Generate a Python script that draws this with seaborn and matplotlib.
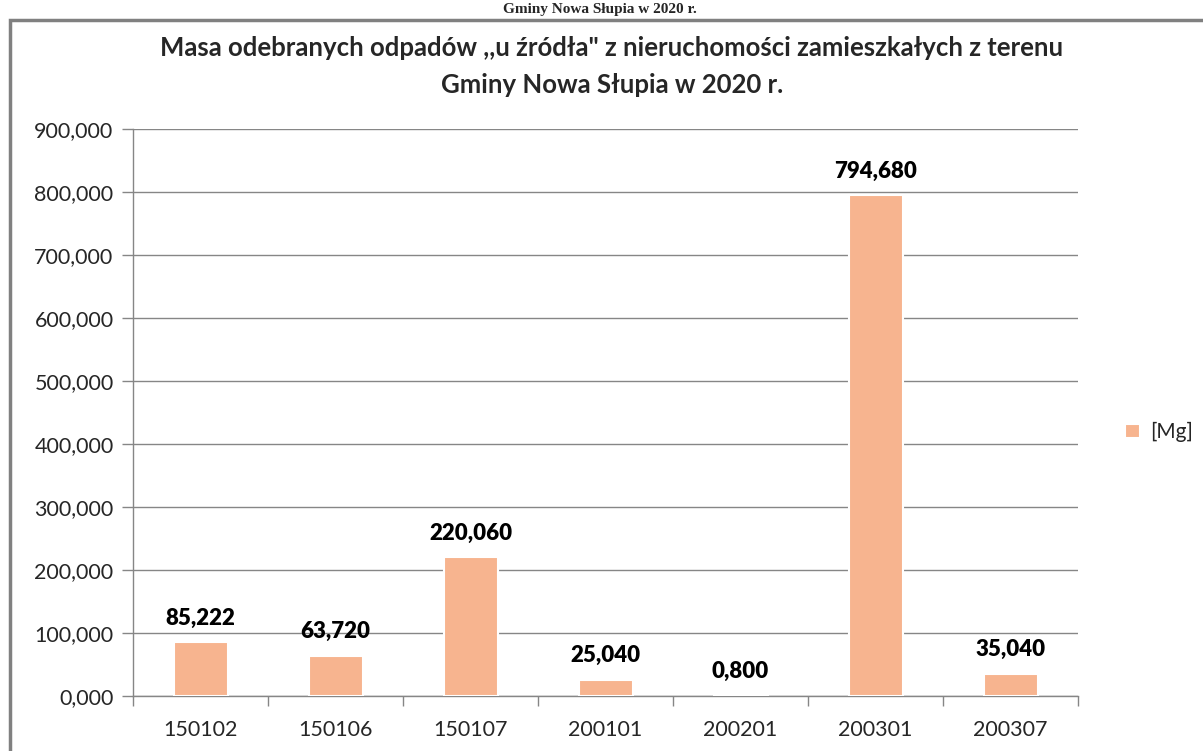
import numpy as np
import pandas as pd
import seaborn as sns
import matplotlib.pyplot as plt
from matplotlib.ticker import FuncFormatter, FixedLocator
from matplotlib.patches import Rectangle

# dane
kody = ['150102', '150106', '150107', '200101', '200201', '200301', '200307']
masa = [85.222, 63.720, 220.060, 25.040, 0.800, 794.680, 35.040]
etykiety = ['85,222', '63,720', '220,060', '25,040', '0,800', '794,680', '35,040']
y_ticks = [0, 100, 200, 300, 400, 500, 600, 700, 800, 900]

kolor = '#F7B48F'

sns.set_theme(style='white')
plt.rcParams['font.family'] = ['Lato', 'DejaVu Sans']

df = pd.DataFrame({'kod': kody, 'masa': masa})

fig = plt.figure(figsize=(12.03, 7.51), dpi=100)
ax = fig.add_axes([133 / 1203, 1 - 696 / 751, (1078 - 133) / 1203, (696 - 129) / 751])

sns.barplot(data=df, x='kod', y='masa', color=kolor, width=0.4, saturation=1,
            edgecolor='white', linewidth=1.5, ax=ax, label='[Mg]', zorder=3)

ax.set_ylim(0, 900)
ax.set_xlim(-0.5, len(kody) - 0.5)
ax.yaxis.set_major_locator(FixedLocator(y_ticks))
ax.yaxis.set_major_formatter(FuncFormatter(lambda v, p: f'{v:,.3f}'.replace(',', ' ').replace('.', ',').replace(' ', ',')))
ax.grid(axis='y', color='#868686', linewidth=1, zorder=0)
ax.set_xlabel('')
ax.set_ylabel('')
for s in ['top', 'right']:
    ax.spines[s].set_visible(False)
for s in ['bottom', 'left']:
    ax.spines[s].set_color('#868686')
    ax.spines[s].set_linewidth(1)
ax.tick_params(axis='y', labelsize=15.5, colors='#868686', labelcolor='#262626', length=8, width=1, left=True, pad=6)
ax.tick_params(axis='x', which='major', labelsize=15.5, length=0, pad=17, labelcolor='#262626')
ax.set_xticks(np.arange(-0.5, len(kody), 1), minor=True)
ax.tick_params(axis='x', which='minor', length=7, width=1, colors='#868686', bottom=True)

for i, (v, t) in enumerate(zip(masa, etykiety)):
    ax.annotate(t, (i, v), xytext=(0, 10), textcoords='offset points', ha='center', va='bottom',
                fontsize=16, fontweight='heavy', color='black')

leg = ax.legend(loc='center left', bbox_to_anchor=(1.03, 0.465), frameon=False, fontsize=15,
                handlelength=0.7, handleheight=0.7, handletextpad=0.5)

fig.text(612 / 1203, 1 - 48 / 751, 'Masa odebranych odpadów ,,u źródła" z nieruchomości zamieszkałych z terenu',
         ha='center', va='center', fontsize=18.5, fontweight='bold')
fig.text(612 / 1203, 1 - 85 / 751, 'Gminy Nowa Słupia w 2020 r.',
         ha='center', va='center', fontsize=18.5, fontweight='bold')

# napis nad ramką (w oryginale częściowo ucięty)
fig.text(600 / 1203, 1 - 9 / 751, 'Gminy Nowa Słupia w 2020 r.', ha='center', va='center',
         fontsize=11, fontweight='bold', family='Liberation Serif')
fig.patches.append(Rectangle((10 / 1203, -0.05), 1.2, 1 - 20 / 751 + 0.05, transform=fig.transFigure,
                             fill=False, edgecolor='#808080', linewidth=2.5))

fig.savefig('out.png', dpi=100, facecolor='white')
